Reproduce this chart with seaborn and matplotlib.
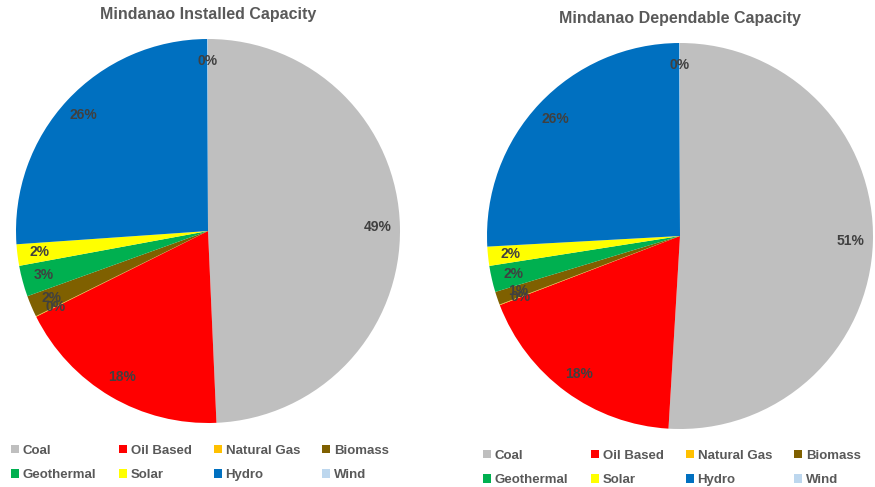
import matplotlib
matplotlib.use("Agg")
import matplotlib.pyplot as plt
import seaborn as sns
from matplotlib.patches import Patch

sns.set_theme(style="white")
plt.rcParams['font.family'] = ['Liberation Sans', 'DejaVu Sans']

categories = ["Coal", "Oil Based", "Natural Gas", "Biomass",
              "Geothermal", "Solar", "Hydro", "Wind"]
installed = [49.2, 18.3, 0.05, 1.8, 2.6, 1.8, 26.0, 0.05]
dependable = [50.9, 18.2, 0.05, 1.1, 2.2, 1.6, 25.8, 0.05]
titles = ["Mindanao Installed Capacity", "Mindanao Dependable Capacity"]
colors = ["#BFBFBF", "#FF0000", "#FFC000", "#7F6000",
          "#00B050", "#FFFF00", "#0070C0", "#BDD7EE"]

W, H = 875, 487
fig = plt.figure(figsize=(W / 100, H / 100), dpi=100)

def px_axes(cx, cy, r):
    return fig.add_axes([(cx - r) / W, 1 - (cy + r) / H, 2 * r / W, 2 * r / H])

specs = [(208, 231, 192, installed, 208, 14, 11, 463),
         (680, 236, 193, dependable, 680, 18, 483, 468)]

for (cx, cy, r, vals, tx, ty, lx, ly), title in zip(specs, titles):
    ax = px_axes(cx, cy, r)
    wedges, texts, autotexts = ax.pie(
        vals, colors=colors, startangle=90, counterclock=False,
        autopct="%.0f%%", pctdistance=0.885,
        wedgeprops=dict(linewidth=0),
        textprops=dict(color="#404040", fontsize=10, fontweight="bold"))
    ax.set_xlim(-1, 1)
    ax.set_ylim(-1, 1)
    ax.set_aspect("equal")
    fig.text(tx / W, 1 - ty / H, title, ha="center", va="center",
             fontsize=11.5, fontweight="bold", color="#595959")
    order = [0, 4, 1, 5, 2, 6, 3, 7]
    handles = [Patch(facecolor=colors[i], edgecolor="none") for i in order]
    labels = [categories[i] for i in order]
    leg = fig.legend(handles, labels, ncol=4, loc="center left",
                     bbox_to_anchor=(lx / W, 1 - ly / H, 378 / W, 0.0),
                     mode="expand", frameon=False, fontsize=9.5,
                     handlelength=0.6, handleheight=0.6, handletextpad=0.3,
                     labelspacing=0.95, borderaxespad=0, borderpad=0)
    for t in leg.get_texts():
        t.set_color("#595959")
        t.set_fontweight("bold")

fig.savefig("out.png", dpi=100, facecolor="white")
